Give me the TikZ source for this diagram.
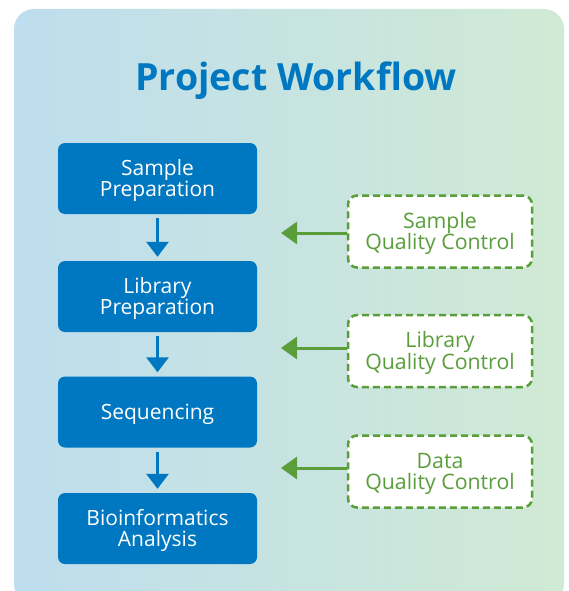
\documentclass[tikz,border=0pt]{standalone}
\usepackage{fontspec}
\setmainfont{Open Sans}
\usetikzlibrary{arrows.meta}
\definecolor{wfblue}{HTML}{0078C1}
\definecolor{wfgreen}{HTML}{5A9E3C}
\definecolor{bgleft}{RGB}{190,221,238}
\definecolor{bgmid}{RGB}{193,231,234}
\definecolor{bgright}{RGB}{208,234,212}
\begin{document}
\begin{tikzpicture}[x=1pt,y=-1pt,
  oneline/.style={text height=21pt, text depth=5.5pt},
  twoline/.style={text height=42pt, text depth=5.5pt},
  stepbox/.style={rectangle, rounded corners=7pt, fill=wfblue, draw=none,
    minimum width=199pt, minimum height=71pt, text=white, align=center,
    font=\fontsize{21}{21.5}\selectfont, inner sep=0pt},
  qcbox/.style={rectangle, rounded corners=9pt, fill=white, draw=wfgreen,
    line width=2.5pt, dash pattern=on 7pt off 4pt,
    minimum width=184pt, minimum height=72pt, text=wfgreen, align=center,
    font=\fontsize{21.3}{21.5}\selectfont, inner sep=0pt},
  flowarrow/.style={draw=wfblue, line width=3pt,
    -{Triangle[length=15pt,width=22pt]}, shorten <=4pt, shorten >=4pt},
  qcarrow/.style={draw=wfgreen, line width=3pt,
    -{Triangle[length=16pt,width=22pt]}}
]
\useasboundingbox (0,0) rectangle (568,591);
\clip (0,0) rectangle (568,591);
\shade[left color=bgleft, middle color=bgmid, right color=bgright, rounded corners=20pt]
  (14,9) rectangle (564,604);
\node[anchor=base, text=wfblue, font=\fontsize{37.5}{40}\selectfont\bfseries] (title) at (296,91) {Project Workflow};
\node[stepbox, twoline] (s1) at (157.5,178.5) {Sample\\Preparation};
\node[stepbox, twoline] (s2) at (157.5,296.5) {Library\\Preparation};
\node[stepbox, oneline] (s3) at (157.5,412) {Sequencing};
\node[stepbox, twoline] (s4) at (157.5,528.5) {Bioinformatics\\Analysis};
\draw[flowarrow] (s1) -- (s2);
\draw[flowarrow] (s2) -- (s3);
\draw[flowarrow] (s3) -- (s4);
\node[qcbox, twoline] (q1) at (440,231.5) {Sample\\Quality Control};
\node[qcbox, twoline] (q2) at (440,351) {Library\\Quality Control};
\node[qcbox, twoline] (q3) at (440,471.5) {Data\\Quality Control};
\coordinate (t1) at (281,233);
\coordinate (t2) at (281,348);
\coordinate (t3) at (281,468);
\draw[qcarrow] (q1.west |- t1) -- (t1);
\draw[qcarrow] (q2.west |- t2) -- (t2);
\draw[qcarrow] (q3.west |- t3) -- (t3);
\end{tikzpicture}
\end{document}
